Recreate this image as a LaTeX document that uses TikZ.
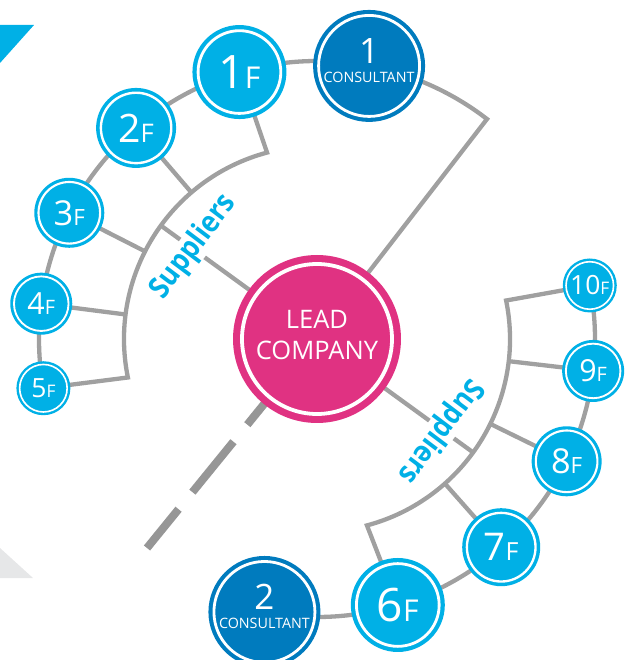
\documentclass[tikz,border=0pt]{standalone}
\usepackage{fontspec}
\setmainfont{Open Sans}
\newfontfamily\supfont{Open Sans}[FakeStretch=0.88]
\usetikzlibrary{backgrounds}
\definecolor{cyanc}{RGB}{0,176,230}
\definecolor{bluec}{RGB}{0,123,190}
\definecolor{pinkc}{RGB}{224,50,130}
\definecolor{grayc}{RGB}{160,160,160}
\definecolor{dgrayc}{RGB}{150,150,150}
\definecolor{lgrayc}{RGB}{230,231,232}
\tikzset{
  sup/.style={circle, fill=cyanc, inner sep=0pt, text=white},
  cons/.style={circle, fill=bluec, inner sep=0pt},
  lead/.style={circle, fill=pinkc, inner sep=0pt},
  ringw/.style={draw=white},
  link/.style={draw=grayc, line width=4.3pt},
  dlink/.style={draw=dgrayc, line width=8pt, dash pattern=on 50pt off 22pt on 65pt off 22pt on 300pt off 0pt},
  wtext/.style={text=white, inner sep=0pt, anchor=base},
  suptext/.style={text=cyanc, font=\supfont\bfseries\fontsize{30}{30}\selectfont, fill=white, inner sep=0pt},
}
\newcommand\supnode[4]{%
  \pgfmathsetmacro\dsz{0.98*#3}%
  \pgfmathsetmacro\fsz{0.64*#3}%
  \pgfmathsetmacro\rrad{0.88*#3}%
  \pgfmathsetmacro\rwid{0.06*#3}%
  \node[sup, minimum size={2*#3pt}] (#1) at (#2:278pt) {\fontsize{\dsz}{\dsz}\selectfont #4\fontsize{\fsz}{\fsz}\selectfont F};
  \draw[ringw, line width=\rwid pt] (#1.center) circle (\rrad pt);
}
\begin{document}
\begin{tikzpicture}[x=1pt,y=1pt,line join=round]
\useasboundingbox (-317,-321) rectangle (316,339);

% lead company
\node[lead, minimum size=168pt] (L) at (0,0) {};
\draw[ringw, line width=3.8pt] (L.center) circle (75pt);
\node[wtext, font=\fontsize{25.5}{25.5}\selectfont] (tl1) at (0,10) {LEAD};
\node[wtext, font=\fontsize{25.5}{25.5}\selectfont] (tl2) at (0,-21) {COMPANY};

% consultants
\node[cons, minimum size=112pt] (C1) at (79.2:278pt) {};
\draw[ringw, line width=2.8pt] (C1.center) circle (50.5pt);
\node[wtext, font=\fontsize{35}{35}\selectfont, yshift=2pt] (tc1a) at (C1.center) {1};
\node[wtext, font=\fontsize{14.3}{14.3}\selectfont, yshift=-17pt] (tc1b) at (C1.center) {CONSULTANT};

\node[cons, minimum size=112pt] (C2) at (-100.9:278pt) {};
\draw[ringw, line width=2.8pt] (C2.center) circle (50.5pt);
\node[wtext, font=\fontsize{35}{35}\selectfont, yshift=2pt] (tc2a) at (C2.center) {2};
\node[wtext, font=\fontsize{14.3}{14.3}\selectfont, yshift=-17pt] (tc2b) at (C2.center) {CONSULTANT};

% suppliers
\supnode{F1}{106.2}{47}{1}
\supnode{F2}{130.6}{40}{2}
\supnode{F3}{153}{35}{3}
\supnode{F4}{172.7}{31}{4}
\supnode{F5}{190.2}{27}{5}
\supnode{F10}{11.1}{27}{10}
\supnode{F9}{-6.6}{31}{9}
\supnode{F8}{-26.1}{35}{8}
\supnode{F7}{-48.5}{39}{7}
\supnode{F6}{-73.1}{47}{6}

% inner arc points
\coordinate (a1) at (105:193pt);
\coordinate (a2) at (130.6:193pt);
\coordinate (a3) at (153:193pt);
\coordinate (a4) at (172.7:193pt);
\coordinate (a5) at (191.5:193pt);
\coordinate (as1) at (144:193pt);
\coordinate (b10) at (11.5:193pt);
\coordinate (b9) at (-6.6:193pt);
\coordinate (b8) at (-26.1:193pt);
\coordinate (b7) at (-48.5:193pt);
\coordinate (b6) at (-75:193pt);
\coordinate (bs2) at (-36:193pt);
\coordinate (dend) at (-170,-209);

% Suppliers labels
\node[suptext, rotate=53] (s1) at (143.3:154pt) {Suppliers};
\node[suptext, rotate=233] (s2) at (-36.8:154pt) {Suppliers};

\begin{scope}[on background layer]
  \fill[cyanc] (-317,314) -- (-283,314) -- (-317,276) -- cycle;
  \fill[lgrayc] (-317,-209) -- (-284,-239) -- (-317,-239) -- cycle;
  % outer arcs
  \draw[link] (C1.center) arc[start angle=79.2, end angle=52.3, radius=278pt] coordinate (k1) -- (L.center);
  \draw[link] (C1.center) arc[start angle=79.2, end angle=190.2, radius=278pt];
  \draw[link] (F10.center) arc[start angle=11.1, end angle=-100.9, radius=278pt];
  % inner arcs
  \draw[link] (F1.center) -- (a1) arc[start angle=105, end angle=191.5, radius=193pt] -- (F5.center);
  \draw[link] (F10.center) -- (b10) arc[start angle=11.5, end angle=-75, radius=193pt] -- (F6.center);
  % spokes
  \draw[link] (F2.center) -- (a2);
  \draw[link] (F3.center) -- (a3);
  \draw[link] (F4.center) -- (a4);
  \draw[link] (F9.center) -- (b9);
  \draw[link] (F8.center) -- (b8);
  \draw[link] (F7.center) -- (b7);
  \draw[link] (L.center) -- (as1);
  \draw[link] (L.center) -- (bs2);
  % dashed
  \draw[dlink] (dend) -- (L.center);
\end{scope}
\end{tikzpicture}
\end{document}
